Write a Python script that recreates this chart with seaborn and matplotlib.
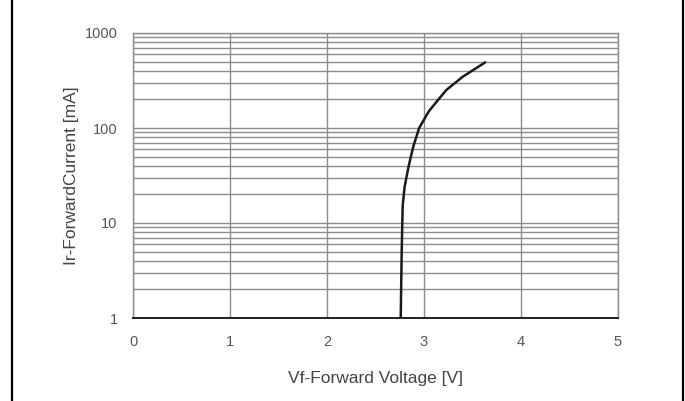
import matplotlib
matplotlib.use("Agg")
import matplotlib.pyplot as plt
from matplotlib.lines import Line2D
from matplotlib.ticker import FixedLocator, NullFormatter
import seaborn as sns
import pandas as pd

# Data
voltage = [2.76, 2.77, 2.78, 2.80, 2.84, 2.89, 2.95, 3.05, 3.16, 3.23, 3.40, 3.63]
current = [1, 5, 15, 24, 39, 64, 100, 150, 206, 251, 347, 490]
x_ticks = [0, 1, 2, 3, 4, 5]
y_ticks = [1, 10, 100, 1000]
y_tick_labels = ["1", "10", "100", "1000"]
x_label = "Vf-Forward Voltage [V]"
y_label = "Ir-ForwardCurrent [mA]"

sns.set_style("white")
plt.rcParams["font.family"] = ["Liberation Sans", "DejaVu Sans"]

df = pd.DataFrame({"V": voltage, "I": current})

fig = plt.figure(figsize=(6.85, 4.01), dpi=100)
ax = fig.add_axes([133 / 685, 83 / 401, 485 / 685, 285 / 401])

sns.lineplot(data=df, x="V", y="I", ax=ax, color="#1a1a1a", linewidth=1.8,
             sort=False, estimator=None, zorder=5)

ax.set_yscale("log")
ax.set_xlim(0, 5)
ax.set_ylim(1, 1000)

minor = [m * 10 ** d for d in range(3) for m in range(2, 10)]
ax.yaxis.set_major_locator(FixedLocator(y_ticks))
ax.set_yticklabels(y_tick_labels)
ax.yaxis.set_minor_locator(FixedLocator(minor))
ax.yaxis.set_minor_formatter(NullFormatter())
ax.set_xticks(x_ticks)

ax.grid(True, which="both", axis="y", color="#8c8c8c", linewidth=1.0)
ax.grid(True, which="major", axis="x", color="#8c8c8c", linewidth=1.0)

for s in ["left", "top", "right"]:
    ax.spines[s].set_color("#8c8c8c")
    ax.spines[s].set_linewidth(1.0)
ax.spines["bottom"].set_color("#111111")
ax.spines["bottom"].set_linewidth(1.3)

ax.tick_params(axis="both", which="both", length=0, labelsize=10.5, labelcolor="#555555")
ax.tick_params(axis="y", pad=11)
ax.tick_params(axis="x", pad=12)

ax.set_xlabel(x_label, fontsize=12.5, color="#444444", labelpad=16)
ax.set_ylabel(y_label, fontsize=12.5, color="#444444", labelpad=4)

# outer frame lines at left and right
fig.add_artist(Line2D([12 / 685, 12 / 685], [0, 1], color="black", linewidth=1.6,
                      transform=fig.transFigure))
fig.add_artist(Line2D([683 / 685, 683 / 685], [0, 1], color="black", linewidth=1.6,
                      transform=fig.transFigure))

fig.savefig("out.png", dpi=100)
